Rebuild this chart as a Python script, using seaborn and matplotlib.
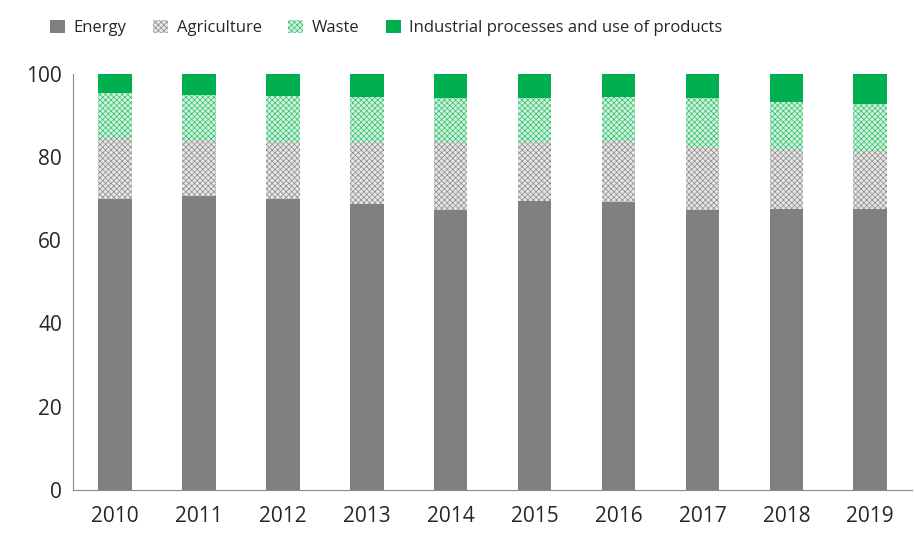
import numpy as np
import pandas as pd
import matplotlib
matplotlib.use("Agg")
import matplotlib.pyplot as plt
import seaborn as sns

years = ["2010", "2011", "2012", "2013", "2014", "2015", "2016", "2017", "2018", "2019"]
energy = [70.0, 70.7, 70.0, 68.8, 67.3, 69.5, 69.2, 67.3, 67.5, 67.5]
agriculture = [14.6, 13.4, 13.7, 14.9, 16.4, 14.2, 14.7, 15.2, 14.5, 14.0]
waste = [10.8, 10.9, 11.0, 10.8, 10.5, 10.5, 10.6, 11.7, 11.3, 11.3]
industrial = [100 - e - a - w for e, a, w in zip(energy, agriculture, waste)]

sns.set_style("white")
plt.rcParams["font.family"] = ["Open Sans", "DejaVu Sans"]
plt.rcParams["hatch.linewidth"] = 0.5

fig, ax = plt.subplots(figsize=(9.14, 5.37), dpi=100)
fig.subplots_adjust(left=0.08, right=0.998, top=0.862, bottom=0.088)

c1 = np.array(energy)
c2 = c1 + np.array(agriculture)
c3 = c2 + np.array(waste)
c4 = c3 + np.array(industrial)

layers = [
    ("Industrial processes and use of products", c4, "#00b050", "#00b050", None),
    ("Waste", c3, "#d2f2de", "#2fbf6a", "xxxxxx"),
    ("Agriculture", c2, "#e6e6e6", "#8a8a8a", "xxxxxx"),
    ("Energy", c1, "#808080", "#808080", None),
]
handles = {}
for name, vals, fc, ec, hatch in layers:
    df = pd.DataFrame({"year": years, "v": vals})
    n0 = len(ax.patches)
    sns.barplot(data=df, x="year", y="v", color=fc, width=0.4, ax=ax, saturation=1)
    for p in ax.patches[n0:]:
        p.set_facecolor(fc)
        p.set_edgecolor(ec)
        p.set_linewidth(0)
        if hatch:
            p.set_hatch(hatch)
    handles[name] = ax.patches[n0]

order = ["Energy", "Agriculture", "Waste", "Industrial processes and use of products"]
ax.legend([handles[k] for k in order], order, loc="lower left", bbox_to_anchor=(-0.045, 1.055),
          ncol=4, frameon=False, fontsize=12, handlelength=0.9, handleheight=0.9,
          columnspacing=1.6, handletextpad=0.5)

ax.set_ylim(0, 100)
ax.set_xlim(-0.5, 9.5)
ax.set_yticks(range(0, 101, 20))
ax.set_xlabel("")
ax.set_ylabel("")
ax.tick_params(axis="both", labelsize=15, length=0)
ax.tick_params(axis="x", pad=12)
ax.tick_params(axis="y", pad=8)
ax.set_xticks(np.arange(-0.5, 10, 1), minor=True)
ax.tick_params(axis="x", which="minor", length=6, color="#888888", direction="out")
for s in ["top", "right"]:
    ax.spines[s].set_visible(False)
for s in ["left", "bottom"]:
    ax.spines[s].set_color("#888888")
fig.savefig("out.png", dpi=100)
